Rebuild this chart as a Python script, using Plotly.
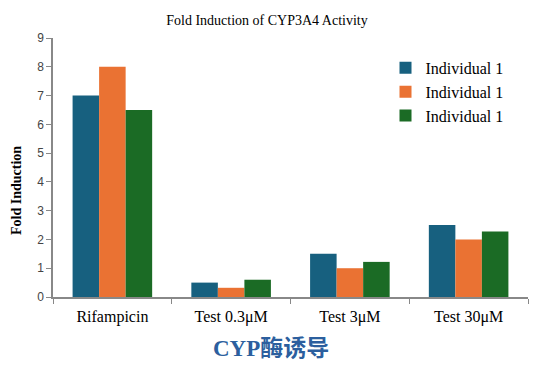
import plotly.graph_objects as go

categories = ["Rifampicin", "Test 0.3μM", "Test 3μM", "Test 30μM"]
series_names = ["Individual 1", "Individual 1", "Individual 1"]
series_values = [
    [7.0, 0.5, 1.5, 2.5],
    [8.0, 0.32, 1.0, 2.0],
    [6.5, 0.6, 1.22, 2.28],
]
colors = ["#17607F", "#EA7233", "#1B6B25"]
y_ticks = [0, 1, 2, 3, 4, 5, 6, 7, 8, 9]

fig = go.Figure()
for name, vals, c in zip(series_names, series_values, colors):
    fig.add_trace(go.Bar(x=categories, y=vals, name=name, marker_color=c,
                         marker_line_width=0))

fig.update_layout(
    width=534, height=366,
    margin=dict(l=53, r=6, t=38, b=69, autoexpand=False),
    plot_bgcolor="white", paper_bgcolor="white",
    barmode="group", bargap=0.33, bargroupgap=0,
    title=dict(text="Fold Induction of CYP3A4 Activity", x=0.5, xanchor="center",
               y=0.945, yanchor="middle",
               font=dict(family="Liberation Serif", size=14, color="#000")),
    legend=dict(x=0.70, y=0.95, xanchor="left", yanchor="top",
                font=dict(family="Liberation Serif", size=16, color="#000"),
                bgcolor="rgba(0,0,0,0)", itemwidth=30),
    showlegend=True,
)
fig.update_xaxes(
    showline=True, linecolor="#888", linewidth=1.5,
    ticks="outside", tickson="boundaries", ticklen=5, tickcolor="#888",
    tickfont=dict(family="Liberation Serif", size=16, color="#000"),
    ticklabelstandoff=4,
    showgrid=False, automargin=False,
)
fig.update_yaxes(
    range=[0, 9], tickvals=y_ticks,
    showline=True, linecolor="#888", linewidth=1.5,
    ticks="outside", ticklen=5, tickcolor="#888",
    tickfont=dict(family="Liberation Sans", size=12, color="#444"),
    showgrid=False, zeroline=False, automargin=False,
)
fig.add_annotation(
    text="<b>Fold Induction</b>", x=-0.078, y=0.413, xref="paper", yref="paper",
    xanchor="center", yanchor="middle", showarrow=False, textangle=-90,
    font=dict(family="Liberation Serif", size=14, color="#000"),
)
fig.add_annotation(
    text="<b>CYP酶诱导</b>", x=0.458, y=-0.2, xref="paper", yref="paper",
    xanchor="center", yanchor="middle", showarrow=False,
    font=dict(family="Liberation Serif, Noto Sans CJK SC", size=23, color="#2C5F9E"),
)
fig.write_html("out.html", config={"displayModeBar": False},
               post_script="document.body.style.margin='0';document.body.style.overflow='hidden';")
